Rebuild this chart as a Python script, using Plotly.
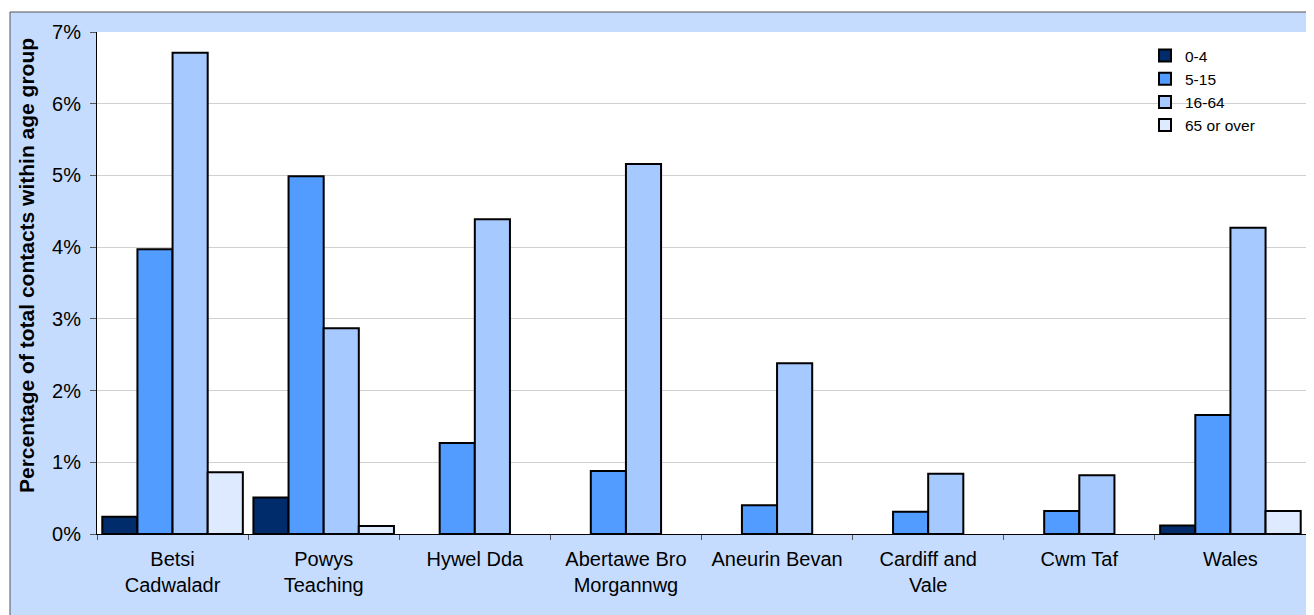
import plotly.graph_objects as go

categories = ["Betsi<br>Cadwaladr", "Powys<br>Teaching", "Hywel Dda", "Abertawe Bro<br>Morgannwg",
              "Aneurin Bevan", "Cardiff and<br>Vale", "Cwm Taf", "Wales"]
age_0_4 = [0.24, 0.51, None, None, None, None, None, 0.12]
age_5_15 = [3.97, 4.99, 1.27, 0.88, 0.40, 0.31, 0.32, 1.66]
age_16_64 = [6.71, 2.87, 4.39, 5.16, 2.38, 0.84, 0.82, 4.27]
age_65_plus = [0.86, 0.11, None, None, None, None, None, 0.32]
series_names = ["0-4", "5-15", "16-64", "65 or over"]
y_ticks = [0, 1, 2, 3, 4, 5, 6, 7]
y_tick_labels = ["0%", "1%", "2%", "3%", "4%", "5%", "6%", "7%"]
y_title = "Percentage of total contacts within age group"

colors = ["#002c6b", "#529bff", "#a6c9ff", "#ddeaff"]
series = [age_0_4, age_5_15, age_16_64, age_65_plus]

OFF = 8  # page body margin
W, H = 1314 - OFF, 615 - OFF
L, R, T, B = 97 - OFF, 8, 32 - OFF, 81
pw, ph = W - L - R, H - T - B


def px_x(px):
    return (px - OFF - L) / pw


def px_y(py):
    return 1 - (py - OFF - T) / ph


fig = go.Figure()
for name, vals, col in zip(series_names, series, colors):
    fig.add_trace(go.Bar(x=categories, y=vals, name=name,
                         marker=dict(color=col, line=dict(color="black", width=2))))

font = "Arial, Liberation Sans, sans-serif"
fig.update_layout(
    width=W, height=H,
    margin=dict(l=L, r=R, t=T, b=B, autoexpand=False),
    barmode="group", bargap=0.07, bargroupgap=0,
    paper_bgcolor="white", plot_bgcolor="white",
    font=dict(family=font, color="black", size=20),
    showlegend=True,
    legend=dict(x=px_x(1145), xanchor="left", y=px_y(39), yanchor="top",
                bgcolor="rgba(0,0,0,0)", font=dict(size=15.5, family=font),
                tracegroupgap=0, itemwidth=30),
    xaxis=dict(showline=True, linecolor="black", linewidth=1, ticks="outside",
               tickson="boundaries", ticklen=5, tickcolor="#555", showgrid=False,
               tickfont=dict(size=20), automargin=False, ticklabelstandoff=7),
    yaxis=dict(range=[0, 7], tickvals=y_ticks, ticktext=y_tick_labels, showline=True,
               linecolor="black", linewidth=1, ticks="outside", ticklen=6, tickcolor="#555",
               showgrid=True, gridcolor="#d0d0d0", gridwidth=1, zeroline=False,
               ticklabelstandoff=5, tickfont=dict(size=20), automargin=False),
    annotations=[
        dict(text="<b>" + y_title + "</b>", xref="paper", yref="paper",
             x=px_x(26), y=px_y(266), xanchor="center", yanchor="middle",
             textangle=-90, showarrow=False, font=dict(size=21, family=font)),
    ],
    shapes=[
        dict(type="rect", xref="paper", yref="paper", layer="below",
             x0=px_x(10), x1=1.2, y0=-0.5, y1=px_y(12),
             fillcolor="#c5dcff", line=dict(color="#555", width=1)),
        dict(type="rect", xref="paper", yref="paper", layer="below",
             x0=0, x1=1, y0=0, y1=1,
             fillcolor="white", line=dict(width=0)),
        dict(type="rect", xref="paper", yref="paper", layer="between",
             x0=px_x(1120), x1=px_x(1295), y0=px_y(135), y1=px_y(34),
             fillcolor="white", line=dict(width=0)),
    ],
)
fig.write_html("out.html")
